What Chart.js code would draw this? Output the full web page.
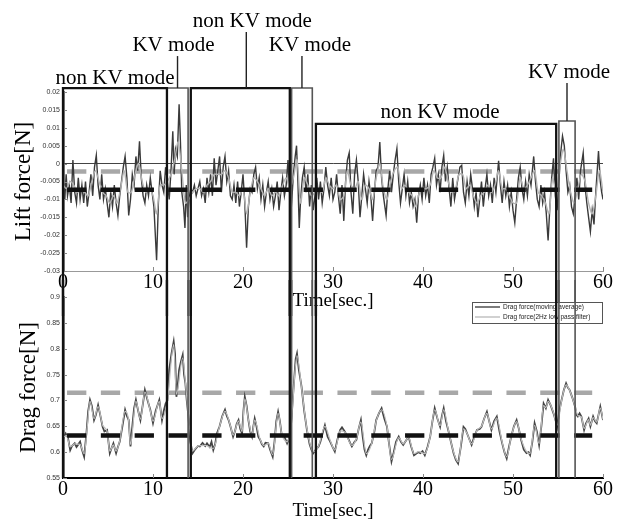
<!DOCTYPE html>
<html><head><meta charset="utf-8">
<script src="https://cdn.jsdelivr.net/npm/chart.js@4.4.0/dist/chart.umd.min.js"></script>
<style>
html,body{margin:0;padding:0;background:#fff;}
#wrap{position:relative;width:620px;height:522px;overflow:hidden;background:#fff;}
#c1{position:absolute;left:0;top:0;}
#c2{position:absolute;left:0;top:280px;}
</style></head><body>
<div id="wrap"><canvas id="c1" width="620" height="316"></canvas><canvas id="c2" width="620" height="242"></canvas></div>
<script>
// ---------- data ----------
const timeTicks = [0, 10, 20, 30, 40, 50, 60];
const timeTickLabels = ['0', '10', '20', '30', '40', '50', '60'];
const liftTicks = [-0.03, -0.025, -0.02, -0.015, -0.01, -0.005, 0, 0.005, 0.01, 0.015, 0.02];
const liftTickLabels = ['-0.03', '-0.025', '-0.02', '-0.015', '-0.01', '-0.005', '0', '0.005', '0.01', '0.015', '0.02'];
const dragTicks = [0.55, 0.6, 0.65, 0.7, 0.75, 0.8, 0.85, 0.9];
const dragTickLabels = ['0.55', '0.6', '0.65', '0.7', '0.75', '0.8', '0.85', '0.9'];

const modeNames = ['non KV mode', 'KV mode', 'non KV mode', 'KV mode', 'non KV mode', 'KV mode'];
const modeStart = [0, 11.55, 14.2, 25.4, 28.1, 55.1];
const modeEnd = [11.55, 13.9, 25.2, 27.7, 54.8, 56.9];
const modeTop = [0.0211, 0.0211, 0.0211, 0.0211, 0.0111, 0.0119];

const meanSpan = [0.45, 58.8];
const liftMeanAvg = -0.0073;
const liftMeanLp = -0.0022;
const dragMeanAvg = 0.632;
const dragMeanLp = 0.715;

const liftAvg = [[0,-0.004],[0.2,-0.010],[0.35,-0.003],[0.5,-0.009],[0.7,-0.006],[0.9,-0.011],[1.1,0.001],[1.3,-0.008],[1.5,-0.011],[1.7,-0.004],[1.9,-0.010],[2.1,-0.006],[2.3,-0.011],[2.5,-0.005],[2.7,-0.012],[2.9,-0.008],[3.1,-0.003],[3.3,-0.009],[3.5,-0.001],[3.7,0.0023],[3.9,-0.006],[4.1,-0.010],[4.3,-0.003],[4.5,-0.010],[4.7,-0.007],[4.9,-0.011],[5.1,-0.015],[5.3,-0.008],[5.5,-0.012],[5.7,-0.006],[5.9,-0.011],[6.1,-0.0145],[6.3,-0.009],[6.5,-0.005],[6.7,-0.001],[6.9,0.002],[7.1,-0.004],[7.3,-0.0145],[7.5,-0.010],[7.7,-0.003],[7.9,-0.006],[8.1,0.002],[8.3,-0.002],[8.5,0.0062],[8.7,-0.004],[8.9,-0.009],[9.1,-0.011],[9.3,-0.006],[9.5,-0.009],[9.7,-0.004],[9.9,-0.008],[10.1,-0.012],[10.4,-0.027],[10.6,-0.011],[10.8,-0.002],[11.0,-0.006],[11.2,-0.008],[11.4,-0.001],[11.6,-0.005],[11.8,-0.010],[12.0,-0.002],[12.2,0.009],[12.35,-0.003],[12.5,0.004],[12.7,0.002],[12.9,0.0166],[13.05,0.006],[13.2,-0.008],[13.4,-0.012],[13.55,-0.018],[13.7,-0.006],[13.85,-0.015],[14.0,-0.010],
[14.2,-0.007],[14.4,-0.008],[14.6,-0.006],[14.8,-0.009],[15.0,-0.007],[15.2,-0.005],[15.4,-0.009],[15.6,-0.007],[15.8,-0.011],[16.0,-0.004],[16.2,-0.008],[16.4,-0.003],[16.6,-0.009],[16.8,0.0015],[17.0,-0.006],[17.2,-0.002],[17.4,0.002],[17.6,-0.008],[17.8,-0.001],[18.0,0.002],[18.2,-0.005],[18.4,-0.002],[18.6,-0.009],[18.8,-0.010],[19.0,-0.006],[19.2,-0.011],[19.4,-0.005],[19.6,-0.012],[19.8,-0.008],[20.0,-0.003],[20.2,-0.011],[20.4,-0.0235],[20.6,-0.012],[20.8,-0.007],[21.0,-0.008],[21.2,-0.003],[21.4,-0.001],[21.6,-0.007],[21.8,-0.004],[22.0,-0.010],[22.2,-0.006],[22.4,-0.012],[22.6,-0.008],[22.8,-0.005],[23.0,-0.010],[23.2,-0.007],[23.4,-0.012],[23.6,-0.009],[23.8,-0.005],[24.0,-0.013],[24.2,-0.008],[24.4,-0.004],[24.6,-0.009],[24.8,-0.006],[25.0,0.001],[25.2,-0.009],[25.4,-0.011],[25.6,-0.003],[25.8,0.002],[25.95,0.005],[26.1,-0.005],[26.25,-0.018],[26.4,-0.010],[26.6,-0.004],[26.8,-0.001],[27.0,-0.008],[27.2,-0.003],[27.4,-0.012],[27.6,-0.006],[27.8,-0.013],[28.0,-0.009],[28.2,-0.004],[28.4,-0.010],[28.6,-0.005],[28.8,-0.011],[29.0,-0.007],[29.2,-0.001],[29.4,-0.006],[29.6,-0.009],[29.8,-0.004],
[30.0,-0.010],[30.2,-0.008],[30.4,-0.003],[30.6,-0.009],[30.8,-0.014],[31.0,-0.006],[31.2,-0.016],[31.4,-0.005],[31.6,0.001],[31.8,0.003],[32.0,-0.008],[32.2,-0.014],[32.4,-0.003],[32.6,0.001],[32.8,-0.005],[33.0,-0.015],[33.2,-0.009],[33.4,-0.003],[33.6,-0.007],[33.8,-0.011],[34.0,-0.005],[34.2,-0.009],[34.4,-0.016],[34.6,-0.008],[34.8,-0.002],[35.0,-0.001],[35.2,0.006],[35.4,-0.004],[35.6,-0.009],[35.9,-0.0145],[36.1,-0.007],[36.3,-0.002],[36.5,-0.008],[36.7,-0.003],[36.9,0.001],[37.1,0.0042],[37.3,-0.005],[37.5,-0.011],[37.7,-0.007],[37.9,-0.003],[38.1,-0.009],[38.3,-0.005],[38.5,-0.011],[38.7,-0.008],[38.9,-0.012],[39.1,-0.010],[39.3,-0.0165],[39.5,-0.009],[39.7,-0.006],[39.9,-0.010],[40.1,-0.004],[40.3,-0.009],[40.5,-0.006],[40.7,-0.011],[40.9,-0.003],[41.1,-0.001],[41.3,0.0015],[41.5,-0.006],[41.7,-0.003],[41.9,-0.008],[42.1,-0.001],[42.3,0.0023],[42.5,-0.005],[42.7,-0.001],[42.9,-0.007],[43.1,-0.012],[43.3,-0.004],[43.5,-0.010],[43.7,-0.007],[43.9,-0.004],[44.1,-0.001],[44.3,-0.0005],[44.5,-0.008],[44.7,-0.011],[44.9,-0.005],
[45.1,-0.009],[45.3,-0.003],[45.5,-0.007],[45.7,-0.012],[45.9,-0.008],[46.1,-0.015],[46.3,-0.010],[46.5,-0.005],[46.7,-0.012],[46.9,-0.007],[47.1,-0.003],[47.3,-0.009],[47.5,-0.006],[47.7,-0.011],[47.9,-0.004],[48.1,-0.008],[48.4,0.0008],[48.6,-0.006],[48.8,-0.011],[49.0,-0.005],[49.2,-0.009],[49.4,-0.006],[49.6,-0.012],[49.8,-0.008],[50.0,-0.013],[50.2,-0.0165],[50.4,-0.010],[50.6,-0.004],[50.8,-0.001],[51.0,-0.007],[51.2,-0.010],[51.4,-0.005],[51.6,-0.009],[51.8,-0.003],[52.0,-0.006],[52.3,0.002],[52.5,-0.005],[52.7,-0.010],[52.9,-0.012],[53.1,-0.006],[53.3,-0.011],[53.5,-0.008],[53.7,-0.014],[53.9,-0.0215],[54.1,-0.012],[54.3,-0.004],[54.5,0.0015],[54.7,-0.009],[54.9,-0.013],[55.1,-0.005],[55.3,0.003],[55.5,0.0077],[55.7,0.005],[55.9,-0.002],[56.1,-0.008],[56.3,-0.006],[56.5,-0.012],[56.7,-0.014],[56.9,-0.009],[57.1,-0.004],[57.3,-0.010],[57.5,-0.002],[57.8,0.003],[58.0,-0.006],[58.2,-0.011],[58.4,-0.015],[58.6,-0.019],[58.8,-0.013],[59.0,-0.017],[59.2,-0.008],[59.5,0.0035],[59.7,-0.005],[59.85,-0.008],[60.0,-0.010]];

const liftLp = [[0,-0.006],[0.4,-0.007],[0.8,-0.005],[1.2,-0.006],[1.6,-0.008],[2.0,-0.007],[2.4,-0.008],[2.8,-0.009],[3.2,-0.005],[3.6,-0.002],[4.0,-0.005],[4.4,-0.008],[4.8,-0.009],[5.2,-0.011],[5.6,-0.009],[6.0,-0.011],[6.4,-0.007],[6.8,-0.002],[7.2,-0.008],[7.6,-0.008],[8.0,-0.003],[8.4,0.000],[8.8,-0.005],[9.2,-0.008],[9.6,-0.007],[10.0,-0.009],[10.4,-0.014],[10.8,-0.006],[11.2,-0.006],[11.6,-0.005],[12.0,-0.003],[12.4,0.001],[12.8,0.006],[13.2,-0.002],[13.6,-0.011],[14.0,-0.010],[14.4,-0.008],[14.8,-0.007],[15.2,-0.007],[15.6,-0.008],[16.0,-0.006],[16.4,-0.005],[16.8,-0.003],[17.2,-0.003],[17.6,-0.003],[18.0,-0.002],[18.4,-0.004],[18.8,-0.008],[19.2,-0.008],[19.6,-0.009],[20.0,-0.007],[20.4,-0.014],[20.8,-0.008],[21.2,-0.004],[21.6,-0.005],[22.0,-0.007],[22.4,-0.009],[22.8,-0.007],[23.2,-0.009],[23.6,-0.008],[24.0,-0.009],[24.4,-0.006],[24.8,-0.004],[25.2,-0.007],[25.6,-0.004],[26.0,0.001],[26.4,-0.011],[26.8,-0.004],[27.2,-0.006],[27.6,-0.009],[28.0,-0.008],[28.4,-0.007],[28.8,-0.008],[29.2,-0.004],[29.6,-0.006],
[30.0,-0.007],[30.4,-0.006],[30.8,-0.010],[31.2,-0.009],[31.6,-0.002],[32.0,-0.006],[32.4,-0.007],[32.8,-0.005],[33.2,-0.010],[33.6,-0.006],[34.0,-0.007],[34.4,-0.010],[34.8,-0.004],[35.2,0.000],[35.6,-0.007],[36.0,-0.010],[36.4,-0.005],[36.8,-0.002],[37.2,-0.001],[37.6,-0.007],[38.0,-0.006],[38.4,-0.008],[38.8,-0.009],[39.2,-0.012],[39.6,-0.008],[40.0,-0.007],[40.4,-0.007],[40.8,-0.006],[41.2,-0.002],[41.6,-0.004],[42.0,-0.004],[42.4,-0.001],[42.8,-0.005],[43.2,-0.008],[43.6,-0.007],[44.0,-0.003],[44.4,-0.003],[44.8,-0.007],[45.2,-0.006],[45.6,-0.009],[46.0,-0.011],[46.4,-0.009],[46.8,-0.008],[47.2,-0.006],[47.6,-0.008],[48.0,-0.006],[48.4,-0.002],[48.8,-0.007],[49.2,-0.007],[49.6,-0.009],[50.0,-0.011],[50.4,-0.011],[50.8,-0.004],[51.2,-0.007],[51.6,-0.006],[52.0,-0.004],[52.4,-0.002],[52.8,-0.008],[53.2,-0.009],[53.6,-0.011],[54.0,-0.014],[54.4,-0.004],[54.8,-0.008],[55.2,-0.001],[55.6,0.004],[56.0,-0.002],[56.4,-0.008],[56.8,-0.011],[57.2,-0.007],[57.6,-0.003],[58.0,-0.005],[58.4,-0.011],[58.8,-0.014],[59.2,-0.009],[59.6,-0.002],[60.0,-0.008]];

const dragAvg = [[0.0,0.625],[0.3,0.636],[0.55,0.628],[0.8,0.604],[1.0,0.612],[1.3,0.617],[1.5,0.610],[1.7,0.615],[1.9,0.620],[2.1,0.605],[2.35,0.591],[2.6,0.636],[2.8,0.680],[3.0,0.701],[3.2,0.690],[3.45,0.662],[3.65,0.672],[3.9,0.691],[4.1,0.675],[4.4,0.649],[4.6,0.640],[4.9,0.643],[5.05,0.620],[5.2,0.598],[5.4,0.608],[5.6,0.617],[5.9,0.598],[6.1,0.610],[6.3,0.620],[6.6,0.650],[6.9,0.682],[7.1,0.670],[7.3,0.662],[7.5,0.611],[7.7,0.650],[7.9,0.685],[8.1,0.701],[8.35,0.680],[8.6,0.662],[8.85,0.690],[9.1,0.720],[9.4,0.700],[9.7,0.682],[10.0,0.656],[10.3,0.680],[10.7,0.701],[11.0,0.662],[11.2,0.680],[11.4,0.694],[11.6,0.700],[11.8,0.759],[12.05,0.790],[12.3,0.814],[12.45,0.790],[12.6,0.707],[12.75,0.730],[12.9,0.759],[13.1,0.775],[13.3,0.788],[13.45,0.750],[13.6,0.733],[13.75,0.700],[13.9,0.675],[14.15,0.620],[14.4,0.598],[14.7,0.606],[15.0,0.612],[15.2,0.611],[15.5,0.618],[15.8,0.612],[16.0,0.617],[16.3,0.610],[16.5,0.620],[16.7,0.604],[16.9,0.615],[17.1,0.636],[17.4,0.650],[17.7,0.670],[18.0,0.682],[18.2,0.670],[18.4,0.662],[18.6,0.650],[18.9,0.630],[19.1,0.640],[19.3,0.655],[19.5,0.662],[19.7,0.645],[19.9,0.636],[20.05,0.680],[20.2,0.707],[20.4,0.690],[20.6,0.662],[20.8,0.640],[21.0,0.630],[21.15,0.650],[21.3,0.665],[21.5,0.650],[21.7,0.630],[21.9,0.624],[22.1,0.615],[22.3,0.611],[22.5,0.618],[22.8,0.617],[23.0,0.605],[23.3,0.591],[23.5,0.620],[23.7,0.660],[23.9,0.678],[24.1,0.660],[24.3,0.633],[24.6,0.630],[24.9,0.617],[25.1,0.625],[25.3,0.643],[25.6,0.720],[25.85,0.780],[26.0,0.791],[26.2,0.760],[26.5,0.727],[26.8,0.680],[27.1,0.643],[27.4,0.615],[27.6,0.605],[27.8,0.598],[28.1,0.605],[28.4,0.611],[28.6,0.620],[28.9,0.640],[29.1,0.652],[29.4,0.630],[29.7,0.620],[29.95,0.610],
[30.2,0.601],[30.5,0.625],[30.8,0.643],[31.0,0.648],[31.3,0.640],[31.6,0.630],[31.9,0.618],[32.1,0.611],[32.4,0.620],[32.6,0.624],[32.85,0.645],[33.1,0.662],[33.3,0.630],[33.5,0.605],[33.7,0.594],[33.9,0.605],[34.1,0.612],[34.3,0.617],[34.6,0.640],[34.8,0.662],[35.1,0.675],[35.4,0.685],[35.7,0.665],[36.0,0.649],[36.2,0.620],[36.5,0.582],[36.75,0.600],[37.0,0.620],[37.3,0.630],[37.55,0.620],[37.8,0.614],[38.1,0.622],[38.4,0.630],[38.7,0.610],[39.0,0.594],[39.3,0.598],[39.5,0.600],[39.7,0.598],[39.95,0.602],[40.2,0.594],[40.5,0.610],[40.8,0.630],[41.05,0.660],[41.3,0.685],[41.6,0.665],[41.9,0.649],[42.1,0.670],[42.3,0.685],[42.55,0.660],[42.8,0.643],[43.1,0.620],[43.4,0.598],[43.65,0.585],[43.9,0.578],[44.2,0.610],[44.5,0.649],[44.7,0.645],[44.9,0.636],[45.15,0.625],[45.4,0.614],[45.7,0.630],[46.0,0.643],[46.3,0.645],[46.5,0.649],[46.8,0.665],[47.1,0.678],[47.35,0.660],[47.6,0.643],[47.9,0.660],[48.2,0.669],[48.5,0.640],[48.8,0.617],[49.05,0.600],[49.3,0.588],[49.55,0.610],[49.8,0.630],[50.1,0.650],[50.4,0.662],[50.65,0.645],[50.9,0.624],[51.2,0.605],[51.5,0.598],[51.7,0.600],[51.9,0.594],[52.15,0.620],[52.4,0.656],[52.65,0.640],[52.9,0.614],[53.15,0.650],[53.4,0.694],[53.65,0.685],[53.9,0.701],[54.2,0.690],[54.5,0.675],[54.75,0.660],[54.9,0.649],[55.15,0.680],[55.4,0.701],[55.65,0.720],[55.9,0.733],[56.1,0.725],[56.3,0.720],[56.6,0.705],[56.9,0.688],[57.05,0.672],[57.2,0.669],[57.4,0.675],[57.6,0.669],[57.9,0.643],[58.1,0.655],[58.4,0.665],[58.6,0.650],[58.9,0.669],[59.1,0.660],[59.3,0.656],[59.5,0.672],[59.7,0.688],[59.85,0.675],[60.0,0.662]];

const dragLp = [[0.0,0.628],[0.4,0.632],[0.8,0.610],[1.3,0.616],[1.9,0.615],[2.35,0.597],[2.7,0.650],[3.0,0.698],[3.45,0.665],[3.9,0.688],[4.4,0.652],[4.9,0.640],[5.2,0.602],[5.6,0.614],[5.9,0.602],[6.3,0.622],[6.9,0.679],[7.3,0.660],[7.5,0.615],[8.1,0.698],[8.6,0.664],[9.1,0.716],[9.7,0.680],[10.0,0.660],[10.7,0.698],[11.0,0.665],[11.6,0.700],[12.3,0.808],[12.6,0.712],[13.3,0.782],[13.6,0.735],[13.9,0.678],[14.4,0.602],[15.0,0.612],[15.8,0.613],[16.7,0.607],[17.4,0.650],[18.0,0.679],[18.6,0.651],[18.9,0.633],[19.5,0.660],[19.9,0.640],[20.2,0.703],[20.6,0.663],[21.0,0.633],[21.3,0.662],[21.9,0.625],[22.3,0.613],[22.8,0.617],[23.3,0.595],[23.9,0.675],[24.3,0.636],[24.9,0.620],[25.3,0.645],[26.0,0.786],[26.5,0.725],[27.1,0.645],[27.8,0.601],[28.4,0.612],[29.1,0.650],[29.7,0.622],[30.2,0.604],[30.8,0.641],[31.3,0.639],[32.1,0.613],[32.6,0.626],[33.1,0.658],[33.7,0.597],[34.3,0.617],[34.8,0.660],[35.4,0.682],[36.0,0.650],[36.5,0.586],[37.3,0.628],[37.8,0.616],[38.4,0.628],[39.0,0.597],[39.5,0.601],[40.2,0.597],[40.8,0.630],[41.3,0.682],[41.9,0.651],[42.3,0.682],[42.8,0.644],[43.4,0.600],[43.9,0.581],[44.5,0.645],[44.9,0.636],[45.4,0.616],[46.0,0.642],[46.5,0.650],[47.1,0.675],[47.6,0.645],[48.2,0.666],[48.8,0.619],[49.3,0.591],[49.8,0.630],[50.4,0.659],[50.9,0.626],[51.5,0.601],[51.9,0.597],[52.4,0.652],[52.9,0.617],[53.4,0.690],[53.65,0.686],[53.9,0.698],[54.5,0.676],[54.9,0.652],[55.4,0.700],[55.9,0.730],[56.3,0.719],[56.9,0.688],[57.2,0.671],[57.6,0.668],[57.9,0.646],[58.4,0.663],[58.6,0.652],[58.9,0.667],[59.3,0.658],[59.7,0.685],[60.0,0.663]];

// ---------- helpers ----------
const pts = arr => arr.map(p => ({x: p[0], y: p[1]}));
const meanPts = v => [{x: meanSpan[0], y: v}, {x: meanSpan[1], y: v}];
const setTicks = vals => scale => { scale.ticks = vals.map(v => ({value: v})); };

const SERIF = '"Liberation Serif", "Times New Roman", serif';
const SANS = '"Liberation Sans", Arial, sans-serif';
const DARK = '#3a3a3a', LIGHT = '#b3b3b3';
const DASH = [19.3, 14.5];

// ---------- plugins ----------
const innerTicks = {
  id: 'innerTicks',
  afterDraw(chart, args, opts) {
    const {ctx, chartArea} = chart;
    const xs = chart.scales.x, ys = chart.scales.y;
    ctx.save();
    ctx.strokeStyle = opts.color || '#888';
    ctx.lineWidth = 1;
    ctx.beginPath();
    xs.ticks.forEach(t => {
      const px = Math.round(xs.getPixelForValue(t.value)) + 0.5;
      ctx.moveTo(px, chartArea.bottom); ctx.lineTo(px, chartArea.bottom - opts.len);
    });
    ys.ticks.forEach(t => {
      const py = Math.round(ys.getPixelForValue(t.value)) + 0.5;
      ctx.moveTo(chartArea.left, py); ctx.lineTo(chartArea.left + opts.len, py);
    });
    ctx.stroke();
    ctx.restore();
  }
};

const boxLegend = {
  id: 'boxLegend',
  afterDraw(chart, args, opts) {
    if (!opts.items) return;
    const {ctx, chartArea} = chart;
    const w = opts.width, h = opts.height;
    const x = chartArea.right - w - 1, y = chartArea.top + 5;
    ctx.save();
    ctx.fillStyle = '#fff';
    ctx.fillRect(x, y, w, h);
    ctx.strokeStyle = '#555'; ctx.lineWidth = 1;
    ctx.strokeRect(x + 0.5, y + 0.5, w, h);
    ctx.font = '6.5px ' + SANS;
    ctx.textBaseline = 'middle'; ctx.textAlign = 'left';
    opts.items.forEach((di, k) => {
      const ds = chart.data.datasets[di];
      const ly = y + 5 + k * 10;
      ctx.strokeStyle = ds.borderColor; ctx.lineWidth = 1.4;
      ctx.beginPath(); ctx.moveTo(x + 3, ly); ctx.lineTo(x + 28, ly); ctx.stroke();
      ctx.fillStyle = '#222';
      ctx.fillText(ds.label, x + 31, ly);
    });
    ctx.restore();
  }
};

const modeBoxes = {
  id: 'modeBoxes',
  afterDraw(chart, args, opts) {
    const {ctx, chartArea} = chart;
    const xs = chart.scales.x, ys = chart.scales.y;
    ctx.save();
    const idx = modeNames.map((n, i) => i).sort((a, b) => (modeNames[a] === 'KV mode' ? 0 : 1) - (modeNames[b] === 'KV mode' ? 0 : 1));
    idx.forEach(i => {
      const kv = modeNames[i] === 'KV mode';
      const x0 = xs.getPixelForValue(modeStart[i]);
      const x1 = xs.getPixelForValue(modeEnd[i]);
      ctx.strokeStyle = kv ? '#555' : '#111';
      ctx.lineWidth = kv ? 1.6 : 2.3;
      ctx.beginPath();
      if (opts.part === 'top') {
        const yt = ys.getPixelForValue(modeTop[i]);
        const yb = chart.height;
        ctx.moveTo(x0, yb); ctx.lineTo(x0, yt); ctx.lineTo(x1, yt); ctx.lineTo(x1, yb);
      } else {
        ctx.moveTo(x0, 0); ctx.lineTo(x0, chartArea.bottom);
        ctx.moveTo(x1, 0); ctx.lineTo(x1, chartArea.bottom);
      }
      ctx.stroke();
    });
    if (opts.part === 'top') {
      ctx.font = '21px ' + SERIF;
      ctx.textAlign = 'center'; ctx.textBaseline = 'middle';
      ctx.fillStyle = '#000';
      modeNames.forEach((name, i) => {
        const x0 = xs.getPixelForValue(modeStart[i]);
        const x1 = xs.getPixelForValue(modeEnd[i]);
        const yt = ys.getPixelForValue(modeTop[i]);
        const cx = (x0 + x1) / 2;
        const ly = yt - opts.labelRise[i];
        ctx.fillText(name, cx + opts.labelShift[i], ly);
        const c = opts.connector[i];
        if (c !== null) {
          ctx.strokeStyle = '#222'; ctx.lineWidth = 1.4;
          ctx.beginPath(); ctx.moveTo(cx + c, ly + 11); ctx.lineTo(cx + c, yt); ctx.stroke();
        }
      });
    }
    ctx.restore();
  }
};

// ---------- top chart: lift ----------
new Chart(document.getElementById('c1'), {
  type: 'line',
  data: {
    datasets: [
      {label: 'Lift mean (moving average)', data: meanPts(liftMeanAvg), borderColor: '#111', borderWidth: 4.5, borderDash: DASH, borderCapStyle: 'butt', pointRadius: 0, order: 0},
      {label: 'Lift force(2Hz low pass filter)', data: pts(liftLp), borderColor: LIGHT, borderWidth: 1.4, pointRadius: 0, tension: 0.3, order: 1},
      {label: 'Lift force(moving average)', data: pts(liftAvg), borderColor: DARK, borderWidth: 1.4, pointRadius: 0, order: 2},
      {label: 'Lift mean (low pass filter)', data: meanPts(liftMeanLp), borderColor: '#a8a8a8', borderWidth: 4.5, borderDash: DASH, borderCapStyle: 'butt', pointRadius: 0, order: 3}
    ]
  },
  plugins: [innerTicks, modeBoxes],
  options: {
    responsive: false, animation: false, events: [],
    layout: {padding: {top: 92, right: 17, left: 0, bottom: 0}},
    plugins: {
      legend: {display: false}, tooltip: {enabled: false},
      innerTicks: {len: 4, color: '#888'},
      modeBoxes: {part: 'top', labelRise: [10, 43, 67, 43, 11, 49], labelShift: [0, -4, 12, 8, 4, 2], connector: [null, 0, 6, 0, null, 0]}
    },
    scales: {
      x: {
        type: 'linear', min: 0, max: 60,
        afterBuildTicks: setTicks(timeTicks),
        afterFit: s => { s.height = 45; },
        grid: {display: false, drawTicks: false},
        border: {display: true, color: '#999', width: 1},
        ticks: {font: {family: SERIF, size: 20}, color: '#000', padding: 0, maxRotation: 0, autoSkip: false, callback: (v, i) => timeTickLabels[i]},
        title: {display: true, text: 'Time[sec.]', color: '#000', font: {family: SERIF, size: 19, lineHeight: 1}, padding: {top: 0, bottom: 5}}
      },
      y: {
        type: 'linear', min: -0.03, max: 0.02,
        afterBuildTicks: setTicks(liftTicks),
        afterFit: s => { s.width = 63; },
        grid: {display: true, drawTicks: false, lineWidth: 1, color: c => (c.tick && c.tick.value === 0) ? '#444' : 'rgba(0,0,0,0)'},
        border: {display: true, color: '#000', width: 2.5},
        ticks: {font: {family: SANS, size: 7}, color: '#333', padding: 3, autoSkip: false, callback: (v, i) => liftTickLabels[i]},
        title: {display: true, text: 'Lift force[N]', color: '#000', font: {family: SERIF, size: 23, lineHeight: 1}, padding: {top: 12, bottom: 0}}
      }
    }
  }
});

// ---------- bottom chart: drag ----------
new Chart(document.getElementById('c2'), {
  type: 'line',
  data: {
    datasets: [
      {label: 'Drag mean (moving average)', data: meanPts(dragMeanAvg), borderColor: '#111', borderWidth: 4.5, borderDash: DASH, borderCapStyle: 'butt', pointRadius: 0, order: 0},
      {label: 'Drag force(moving average)', data: pts(dragAvg), borderColor: '#444', borderWidth: 1.8, pointRadius: 0, order: 2},
      {label: 'Drag force(2Hz low pass filter)', data: pts(dragLp), borderColor: '#bdbdbd', borderWidth: 1.2, pointRadius: 0, cubicInterpolationMode: 'monotone', order: 1},
      {label: 'Drag mean (low pass filter)', data: meanPts(dragMeanLp), borderColor: '#a8a8a8', borderWidth: 4.5, borderDash: DASH, borderCapStyle: 'butt', pointRadius: 0, order: 3}
    ]
  },
  plugins: [innerTicks, boxLegend, modeBoxes],
  options: {
    responsive: false, animation: false, events: [],
    layout: {padding: {top: 17, right: 17, left: 0, bottom: 0}},
    plugins: {
      legend: {display: false}, tooltip: {enabled: false},
      innerTicks: {len: 4, color: '#888'},
      boxLegend: {items: [1, 2], width: 130, height: 21},
      modeBoxes: {part: 'bottom'}
    },
    scales: {
      x: {
        type: 'linear', min: 0, max: 60,
        afterBuildTicks: setTicks(timeTicks),
        afterFit: s => { s.height = 44; },
        grid: {display: false, drawTicks: false},
        border: {display: true, color: '#000', width: 2},
        ticks: {font: {family: SERIF, size: 20}, color: '#000', padding: 0, maxRotation: 0, autoSkip: false, callback: (v, i) => timeTickLabels[i]},
        title: {display: true, text: 'Time[sec.]', color: '#000', font: {family: SERIF, size: 19, lineHeight: 1}, padding: {top: 0, bottom: 1}}
      },
      y: {
        type: 'linear', min: 0.55, max: 0.9,
        afterBuildTicks: setTicks(dragTicks),
        afterFit: s => { s.width = 63; },
        grid: {display: false, drawTicks: false},
        border: {display: true, color: '#000', width: 2.5},
        ticks: {font: {family: SANS, size: 7}, color: '#333', padding: 3, autoSkip: false, callback: (v, i) => dragTickLabels[i]},
        title: {display: true, text: 'Drag force[N]', color: '#000', font: {family: SERIF, size: 23, lineHeight: 1}, padding: {top: 17, bottom: 0}}
      }
    }
  }
});
</script>
</body></html>
